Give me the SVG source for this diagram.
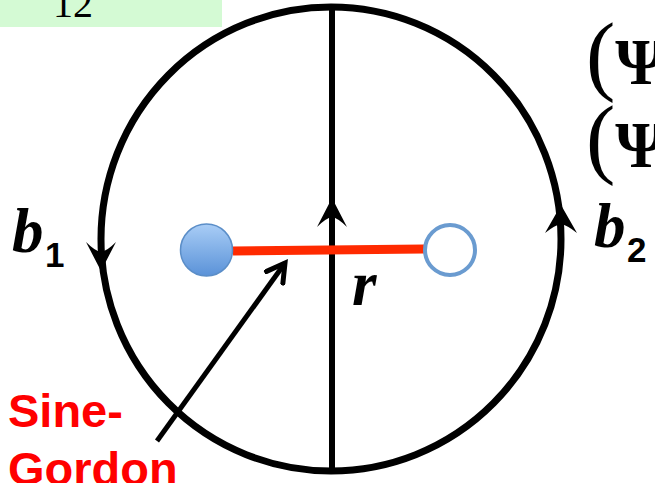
<svg xmlns="http://www.w3.org/2000/svg" width="655" height="483" viewBox="0 0 655 483">
<style>
.serif{font-family:"Liberation Serif","Times New Roman",serif}
.bi{font-family:"Liberation Serif","Times New Roman",serif;font-weight:bold;font-style:italic;font-size:63px}
.sub{font-family:"Liberation Sans",Arial,sans-serif;font-weight:bold;font-size:35px}
.red{font-family:"Liberation Sans",Arial,sans-serif;font-weight:bold;font-size:47px;fill:#ff0000}
.loop{fill:none;stroke:#000;stroke-width:7}
</style>
<defs>
<linearGradient id="blueg" x1="0" y1="0" x2="0" y2="1">
<stop offset="0" stop-color="#a9cdf6"/>
<stop offset="1" stop-color="#5a92d8"/>
</linearGradient>
<marker id="vee" viewBox="0 0 10 10" refX="8" refY="5" markerWidth="5" markerHeight="5" orient="auto" markerUnits="strokeWidth">
<path d="M1,1 L8,5 L1,9" fill="none" stroke="#000" stroke-width="2" stroke-linecap="square"/>
</marker>
</defs>
<rect width="655" height="483" fill="#fff"/>
<g id="header">
<rect x="0" y="0" width="222" height="27" fill="#d4fad4"/>
<text class="serif" x="53" y="17" font-size="40">12</text>
</g>
<g id="connectors">
<ellipse class="loop" cx="331" cy="239" rx="230" ry="232"/>
<line x1="332" y1="7" x2="332" y2="471" stroke="#000" stroke-width="6"/>
<path d="M332,198 L347,227 Q338,218 332,217 Q326,218 317,227 Z" fill="#000"/>
<path d="M101,271 L86,242 Q95,251 101,252 Q107,251 116,242 Z" fill="#000"/>
<path d="M561,205 L577,233 Q567,225 561,224 Q555,225 545,233 Z" fill="#000"/>
<line x1="233" y1="251" x2="424" y2="249" stroke="#ff2a00" stroke-width="9"/>
<line x1="157" y1="441" x2="285" y2="263" stroke="#000" stroke-width="5" marker-end="url(#vee)"/>
</g>
<g id="node-filled">
<circle cx="206.5" cy="250" r="26" fill="url(#blueg)" stroke="#5b8ec8" stroke-width="1.5"/>
</g>
<g id="node-open">
<circle cx="450" cy="250" r="25" fill="#fff" stroke="#6a9bd0" stroke-width="4"/>
</g>
<g id="labels">
<text class="bi" x="12" y="252">b</text>
<text class="sub" x="45" y="267">1</text>
<text class="bi" x="594" y="247">b</text>
<text class="sub" x="627" y="262">2</text>
<text class="bi" x="352" y="305">r</text>
<text class="red" x="8" y="427">Sine-</text>
<text class="red" x="8" y="485">Gordon</text>
<text class="serif" x="586" y="84" font-size="88">(<tspan font-size="66" font-weight="bold">Ψ</tspan></text>
<text class="serif" x="586" y="167" font-size="88">(<tspan font-size="66" font-weight="bold">Ψ</tspan></text>
</g>
</svg>
